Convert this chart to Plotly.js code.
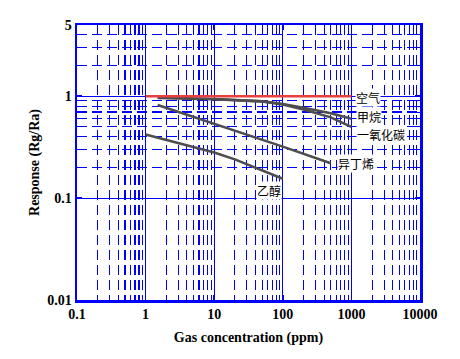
<!DOCTYPE html>
<html><head><meta charset="utf-8">
<script src="https://cdn.plot.ly/plotly-3.0.1.min.js"></script>
<style>html,body{margin:0;padding:0;background:#fff}#c{width:460px;height:359px}</style>
</head><body><div id="c"></div>
<script>
var airX = [1, 1000];
var airY = [1, 1];
var methaneX = [1.5, 10, 50, 100, 200, 500, 1000];
var methaneY = [0.96, 0.935, 0.89, 0.84, 0.77, 0.68, 0.6];
var coX = [1.5, 10, 50, 100, 200, 500, 1000];
var coY = [0.97, 0.94, 0.89, 0.83, 0.74, 0.62, 0.5];
var isobuteneX = [1.5, 10, 100, 500];
var isobuteneY = [0.82, 0.54, 0.32, 0.22];
var ethanolX = [1, 10, 20, 100];
var ethanolY = [0.42, 0.28, 0.24, 0.155];
var labels = ['空气', '甲烷', '一氧化碳', '异丁烯', '乙醇'];
var xTickVals = [0.1, 1, 10, 100, 1000, 10000];
var xTickText = ['0.1', '1', '10', '100', '1000', '10000'];
var yTickVals = [0.01, 0.1, 1, 5];
var yTickText = ['0.01', '0.1', '1', '5'];
var xMinor = [];
[0.1, 1, 10, 100, 1000].forEach(function(d){ for (var k = 2; k <= 9; k++) xMinor.push(d * k); });
var yMinor = [0.2,0.3,0.4,0.5,0.6,0.7,0.8,0.9,2,3,4];

var blue = 'rgb(0,0,255)';
var gray = '#4d4d4d';
function line(x, y, c) {
  return {x: x, y: y, mode: 'lines', type: 'scatter', line: {color: c, width: 2.6}, hoverinfo: 'skip'};
}
var data = [
  line(ethanolX, ethanolY, gray),
  line(isobuteneX, isobuteneY, gray),
  line(coX, coY, gray),
  line(methaneX, methaneY, gray),
  line(airX, airY, '#e84040')
];
var labelPos = [[3.235, -0.012], [3.257, -0.2], [3.425, -0.38], [3.068, -0.665], [1.801, -0.929]];
var annotations = labels.map(function(t, i){
  return {text: t, x: labelPos[i][0], y: labelPos[i][1], xref: 'x', yref: 'y', showarrow: false,
    xanchor: 'center', yanchor: 'middle', bgcolor: '#ffffff', borderpad: 0,
    font: {family: 'Noto Sans CJK SC', size: 12, color: '#000'}};
});
var tickFont = {family: 'Liberation Serif', size: 14, color: '#000', weight: 'bold'};
var axisCommon = {
  type: 'log', showline: true, linecolor: blue, linewidth: 2.5, mirror: 'ticks',
  ticks: 'inside', ticklen: 5, tickwidth: 1.5, tickcolor: blue,
  showgrid: true, gridcolor: blue, gridwidth: 1, zeroline: false,
  tickmode: 'array', tickfont: tickFont
};
function minorOf(vals) {
  return {tickmode: 'array', tickvals: vals, showgrid: true, gridcolor: blue, gridwidth: 1.1,
    griddash: '10px,5px', ticks: 'inside', ticklen: 3, tickwidth: 1, tickcolor: blue};
}
var layout = {
  width: 460, height: 359,
  margin: {l: 77, r: 40, t: 24.5, b: 58.5},
  paper_bgcolor: '#fff', plot_bgcolor: '#fff',
  showlegend: false,
  xaxis: Object.assign({}, axisCommon, {
    range: [-1, 4], tickvals: xTickVals, ticktext: xTickText,
    minor: minorOf(xMinor),
    title: {text: 'Gas concentration (ppm)', font: {family: 'Liberation Serif', size: 14, color: '#000', weight: 'bold'}, standoff: 11}
  }),
  yaxis: Object.assign({}, axisCommon, {
    range: [-2, Math.log10(5)], tickvals: yTickVals, ticktext: yTickText,
    minor: minorOf(yMinor),
    title: {text: 'Response (Rg/Ra)', font: {family: 'Liberation Serif', size: 14, color: '#000', weight: 'bold'}, standoff: 5}
  }),
  annotations: annotations
};
Plotly.newPlot('c', data, layout, {staticPlot: true, displayModeBar: false});
</script>
</body></html>
